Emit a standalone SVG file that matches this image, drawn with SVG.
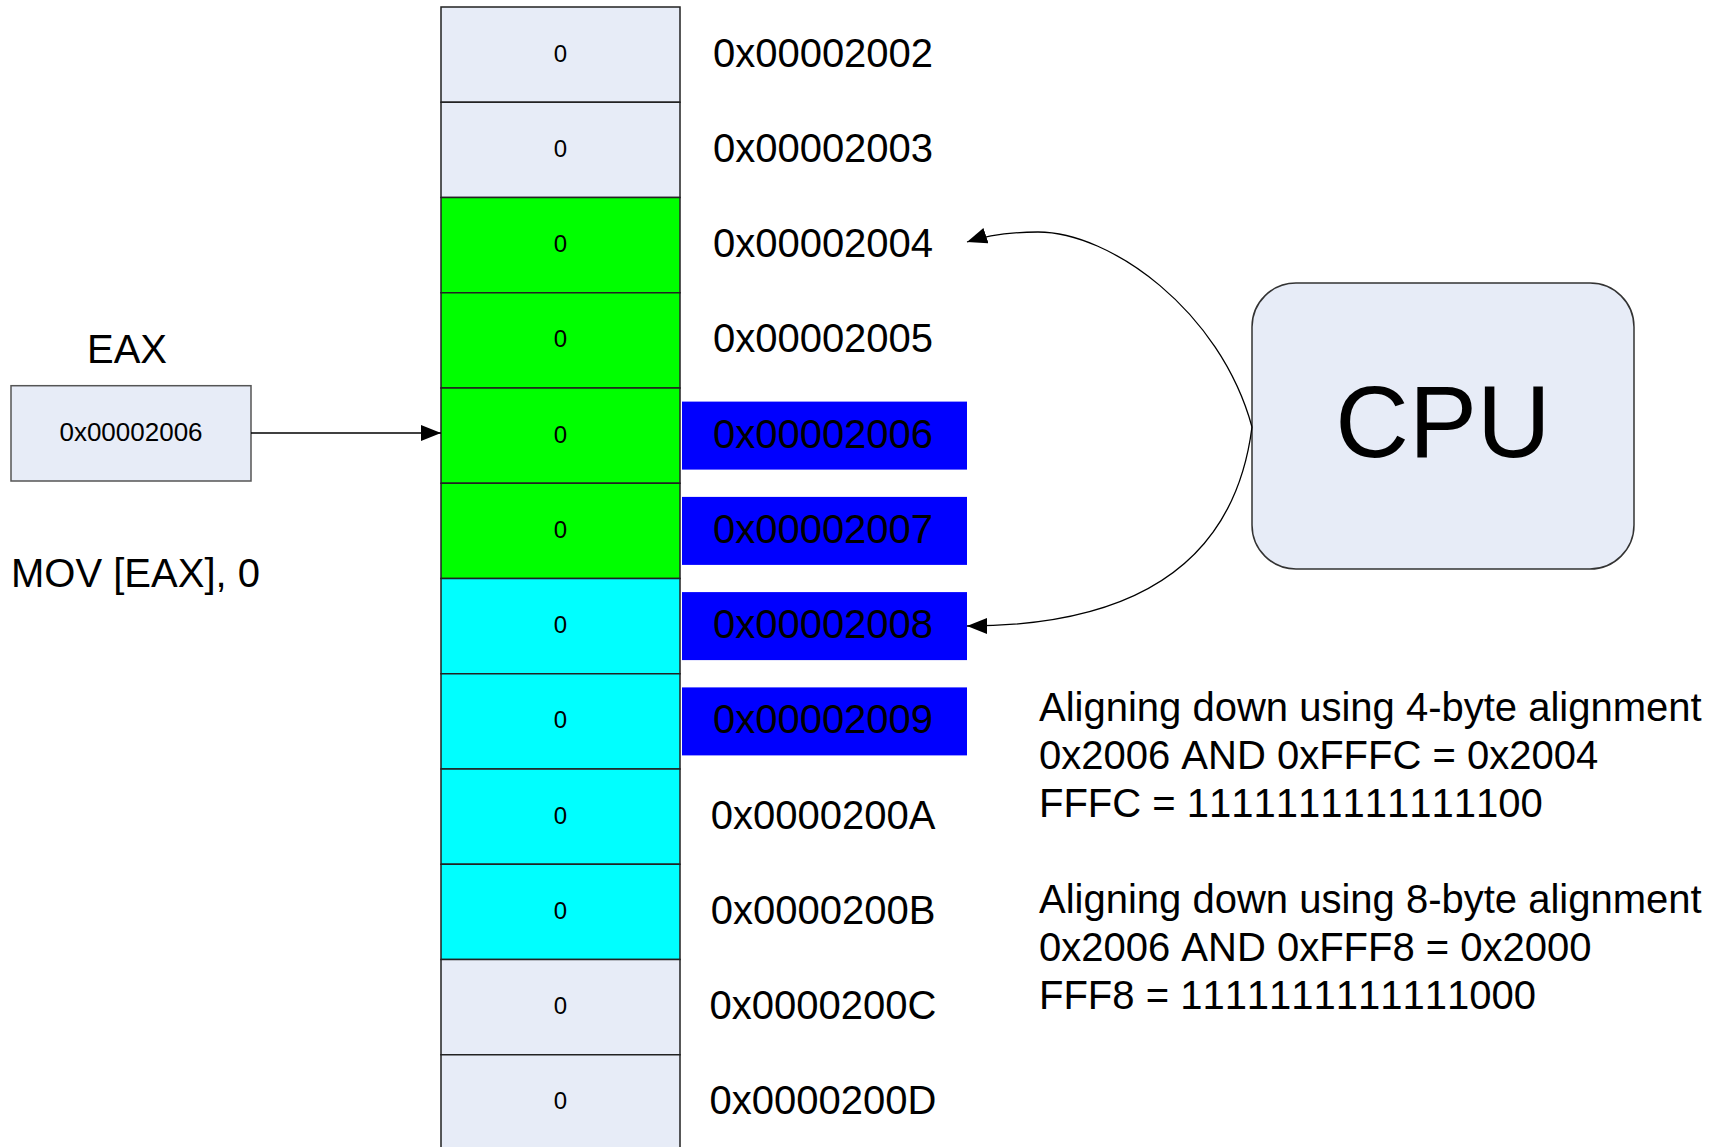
<svg xmlns="http://www.w3.org/2000/svg" width="1727" height="1147" viewBox="0 0 1727 1147">
<style>
text{font-family:"Liberation Sans",Arial,sans-serif;fill:#000;font-kerning:none}
.cell{stroke:#222;stroke-width:1.5}
.light{fill:#E7ECF7}
.green{fill:#00FF00}
.cyan{fill:#00FFFF}
.v{font-size:24px;text-anchor:middle}
.addr{font-size:40px;text-anchor:middle}
.hl{fill:#0000FF}
.big{font-size:40px}
.conn{fill:none;stroke:#000;stroke-width:1.3}
</style>
<defs>
<marker id="ah" viewBox="0 0 20 16" refX="20" refY="8" markerWidth="20" markerHeight="16" markerUnits="userSpaceOnUse" orient="auto">
<path d="M0,0 L20,8 L0,16 Z" fill="#000"/>
</marker>
</defs>
<rect width="1727" height="1147" fill="#fff"/>

<g id="memory">
<g id="cell0"><rect class="cell light" x="441" y="7" width="239" height="95.25"/><text class="v" x="560.5" y="61.5">0</text></g>
<g id="cell1"><rect class="cell light" x="441" y="102.25" width="239" height="95.25"/><text class="v" x="560.5" y="156.8">0</text></g>
<g id="cell2"><rect class="cell green" x="441" y="197.5" width="239" height="95.25"/><text class="v" x="560.5" y="252">0</text></g>
<g id="cell3"><rect class="cell green" x="441" y="292.75" width="239" height="95.25"/><text class="v" x="560.5" y="347.3">0</text></g>
<g id="cell4"><rect class="cell green" x="441" y="388" width="239" height="95.25"/><text class="v" x="560.5" y="442.5">0</text></g>
<g id="cell5"><rect class="cell green" x="441" y="483.25" width="239" height="95.25"/><text class="v" x="560.5" y="537.8">0</text></g>
<g id="cell6"><rect class="cell cyan" x="441" y="578.5" width="239" height="95.25"/><text class="v" x="560.5" y="633">0</text></g>
<g id="cell7"><rect class="cell cyan" x="441" y="673.75" width="239" height="95.25"/><text class="v" x="560.5" y="728.3">0</text></g>
<g id="cell8"><rect class="cell cyan" x="441" y="769" width="239" height="95.25"/><text class="v" x="560.5" y="823.5">0</text></g>
<g id="cell9"><rect class="cell cyan" x="441" y="864.25" width="239" height="95.25"/><text class="v" x="560.5" y="918.8">0</text></g>
<g id="cell10"><rect class="cell light" x="441" y="959.5" width="239" height="95.25"/><text class="v" x="560.5" y="1014">0</text></g>
<g id="cell11"><rect class="cell light" x="441" y="1054.75" width="239" height="95.25"/><text class="v" x="560.5" y="1109.3">0</text></g>
</g>

<g id="highlights">
<rect class="hl" x="682" y="401.6" width="285" height="68"/>
<rect class="hl" x="682" y="496.9" width="285" height="68"/>
<rect class="hl" x="682" y="592.1" width="285" height="68"/>
<rect class="hl" x="682" y="687.4" width="285" height="68"/>
</g>

<g id="addresses">
<text class="addr" x="823" y="66.6">0x00002002</text>
<text class="addr" x="823" y="161.9">0x00002003</text>
<text class="addr" x="823" y="257.1">0x00002004</text>
<text class="addr" x="823" y="352.4">0x00002005</text>
<text class="addr" x="823" y="447.6">0x00002006</text>
<text class="addr" x="823" y="542.9">0x00002007</text>
<text class="addr" x="823" y="638.1">0x00002008</text>
<text class="addr" x="823" y="733.4">0x00002009</text>
<text class="addr" x="823" y="828.6">0x0000200A</text>
<text class="addr" x="823" y="923.9">0x0000200B</text>
<text class="addr" x="823" y="1019.1">0x0000200C</text>
<text class="addr" x="823" y="1114.4">0x0000200D</text>
</g>

<g id="eax">
<text class="big" x="127" y="363" text-anchor="middle">EAX</text>
<rect x="11" y="385.7" width="240" height="95.3" fill="#E7ECF7" stroke="#555" stroke-width="1.5"/>
<text x="131" y="441" font-size="26" text-anchor="middle">0x00002006</text>
</g>

<g id="instruction">
<text class="big" x="11" y="587">MOV [EAX], 0</text>
</g>

<g id="cpu">
<rect x="1252" y="283" width="382" height="286" rx="44" ry="44" fill="#E7ECF7" stroke="#333" stroke-width="1.5"/>
<text x="1443" y="457" font-size="102" text-anchor="middle">CPU</text>
</g>

<g id="notes">
<text class="big" x="1039" y="721">Aligning down using 4-byte alignment</text>
<text class="big" x="1039" y="769">0x2006 AND 0xFFFC = 0x2004</text>
<text class="big" x="1039" y="817">FFFC = 1111111111111100</text>
<text class="big" x="1039" y="913">Aligning down using 8-byte alignment</text>
<text class="big" x="1039" y="961">0x2006 AND 0xFFF8 = 0x2000</text>
<text class="big" x="1039" y="1009">FFF8 = 1111111111111000</text>
</g>

<g id="connectors">
<path class="conn" d="M251,433 L441,433" marker-end="url(#ah)"/>
<path class="conn" d="M1252,427 C1220,310 1110,232 1038,232 C1010,232 985,236 967,242" marker-end="url(#ah)"/>
<path class="conn" d="M1252,427 C1235,560 1140,626 967,626" marker-end="url(#ah)"/>
</g>
</svg>
